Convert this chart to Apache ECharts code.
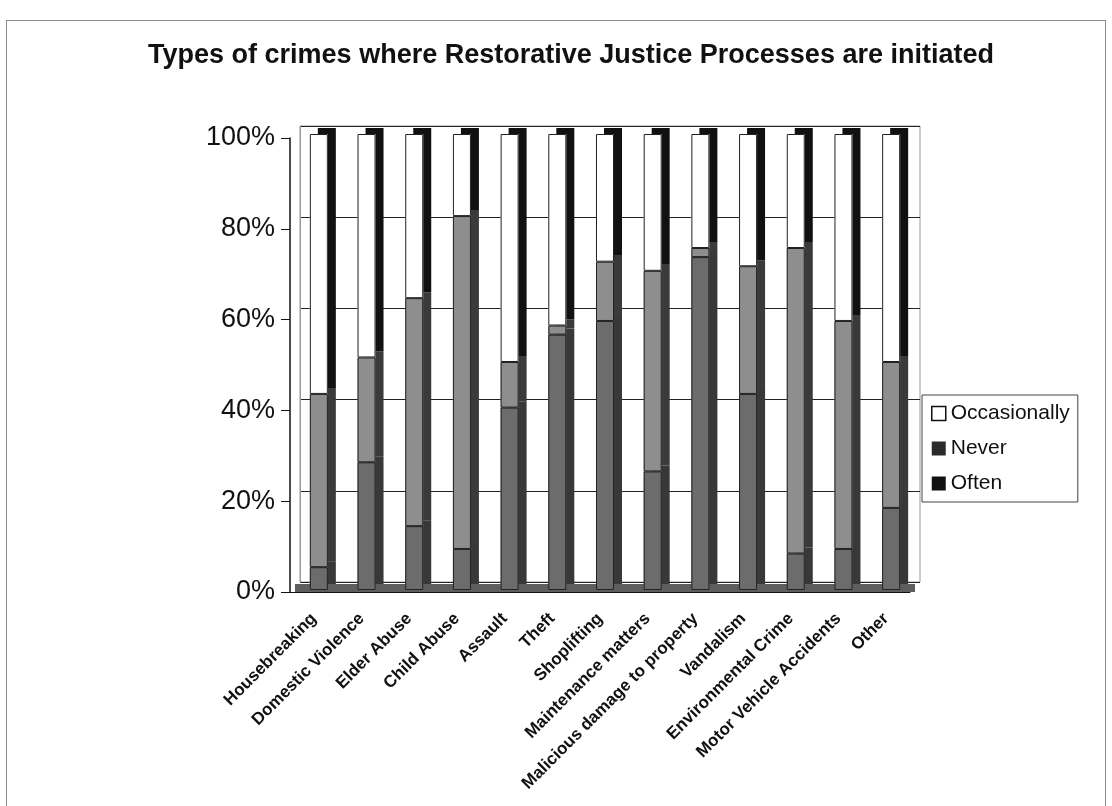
<!DOCTYPE html>
<html>
<head>
<meta charset="utf-8">
<script src="https://cdn.jsdelivr.net/npm/echarts@6/dist/echarts.min.js"></script>
<style>
  html, body { margin: 0; padding: 0; background: #fff; }
  #chart { width: 1112px; height: 806px; }
  #frame { position: absolute; left: 6px; top: 20px; width: 1098px; height: 800px;
           border: 1px solid #8a8a8a; pointer-events: none; }
</style>
</head>
<body>
<div id="chart"></div>
<div id="frame"></div>
<script>
const categories = [
  "Housebreaking", "Domestic Violence", "Elder Abuse", "Child Abuse", "Assault",
  "Theft", "Shoplifting", "Maintenance matters", "Malicious damage to property",
  "Vandalism", "Environmental Crime", "Motor Vehicle Accidents", "Other"
];
const often        = [5, 28, 14, 9, 40, 56, 59, 26, 73, 43, 8, 9, 18];
const never        = [38, 23, 50, 73, 10, 2, 13, 44, 2, 28, 67, 50, 32];
const occasionally = [57, 49, 36, 18, 50, 42, 28, 30, 25, 29, 25, 41, 50];
const yTicks = [0, 20, 40, 60, 80, 100];

const font = "'Liberation Sans', Arial, sans-serif";
const chart = echarts.init(document.getElementById("chart"));

// filled bar with a hard offset shadow to fake the excel 3d side face
const bar = (name, data, color, side) => ({
  name,
  type: "bar",
  stack: "all",
  xAxisIndex: 2,
  yAxisIndex: 2,
  barWidth: 18,
  barGap: "-100%",
  data,
  itemStyle: {
    color,
    borderWidth: 0,
    shadowColor: side,
    shadowBlur: 0,
    shadowOffsetX: 8,
    shadowOffsetY: -6,
  },
});

// outline drawn on top, no shadow (otherwise the stroke shadow shows inside the face)
const edge = (name, data) => ({
  name,
  type: "bar",
  stack: "edge",
  xAxisIndex: 2,
  yAxisIndex: 2,
  barWidth: 18,
  barGap: "-100%",
  silent: true,
  data,
  itemStyle: { color: "rgba(0,0,0,0)", borderColor: "#222", borderWidth: 1 },
});

chart.setOption({
  animation: false,
  title: {
    text: "Types of crimes where Restorative Justice Processes are initiated",
    left: 566,
    top: 37,
    textAlign: "center",
    textStyle: { fontFamily: font, fontSize: 27, fontWeight: "bold", color: "#111" },
  },
  legend: {
    orient: "vertical",
    left: 922,
    top: 395,
    padding: [8, 8, 8, 9],
    itemGap: 14,
    itemWidth: 14,
    itemHeight: 14,
    borderColor: "#444",
    borderWidth: 1,
    backgroundColor: "#fff",
    textStyle: { fontFamily: font, fontSize: 21, color: "#111" },
    data: [
      { name: "Occasionally", icon: "rect", itemStyle: { color: "#fff", borderColor: "#111", borderWidth: 1.5 } },
      { name: "Never", icon: "rect", itemStyle: { color: "#2b2b2b", borderWidth: 0 } },
      { name: "Often", icon: "rect", itemStyle: { color: "#111", borderWidth: 0 } },
    ],
  },
  grid: [
    // front axes
    { left: 290, right: 202, top: 138, bottom: 214 },
    // back wall
    { left: 300, right: 192, top: 126, bottom: 224, show: true, borderColor: "#9a9a9a", borderWidth: 1 },
    // bars (mid depth)
    { left: 295, right: 197, top: 134, bottom: 216 },
  ],
  xAxis: [
    {
      gridIndex: 0,
      type: "category",
      data: categories,
      axisLine: { lineStyle: { color: "#111", width: 1 } },
      axisTick: { length: 6, lineStyle: { color: "#111" } },
      axisLabel: {
        interval: 0,
        rotate: 45,
        margin: 24,
        fontFamily: font,
        fontSize: 17,
        fontWeight: "bold",
        color: "#111",
      },
    },
    { gridIndex: 1, type: "category", data: categories, show: false },
    {
      gridIndex: 2,
      type: "category",
      data: categories,
      offset: -2,
      axisLine: { lineStyle: { color: "#5e5e5e", width: 8, cap: "butt" } },
      axisTick: { show: false },
      axisLabel: { show: false },
    },
  ],
  yAxis: [
    {
      gridIndex: 0,
      min: 0,
      max: 100,
      interval: 20,
      axisLine: { show: true, lineStyle: { color: "#111", width: 1.5 } },
      axisTick: { show: true, length: 9, lineStyle: { color: "#111" } },
      splitLine: { show: false },
      axisLabel: {
        margin: 15,
        fontFamily: font,
        fontSize: 27,
        color: "#111",
        formatter: (v) => (yTicks.includes(v) ? v + "%" : ""),
      },
    },
    {
      gridIndex: 1,
      min: 0,
      max: 100,
      interval: 20,
      axisLine: { show: true, lineStyle: { color: "#9a9a9a" } },
      axisTick: { show: false },
      axisLabel: { show: false },
      splitLine: { show: true, lineStyle: { color: "#222", width: 1 } },
    },
    { gridIndex: 2, min: 0, max: 100, show: false },
  ],
  series: [
    bar("Often", often, "#6c6c6c", "#383838"),
    bar("Never", never, "#8e8e8e", "#3a3a3a"),
    bar("Occasionally", occasionally, "#ffffff", "#111111"),
    edge("often-edge", often),
    edge("never-edge", never),
    edge("occasionally-edge", occasionally),
  ],
});
</script>
</body>
</html>
